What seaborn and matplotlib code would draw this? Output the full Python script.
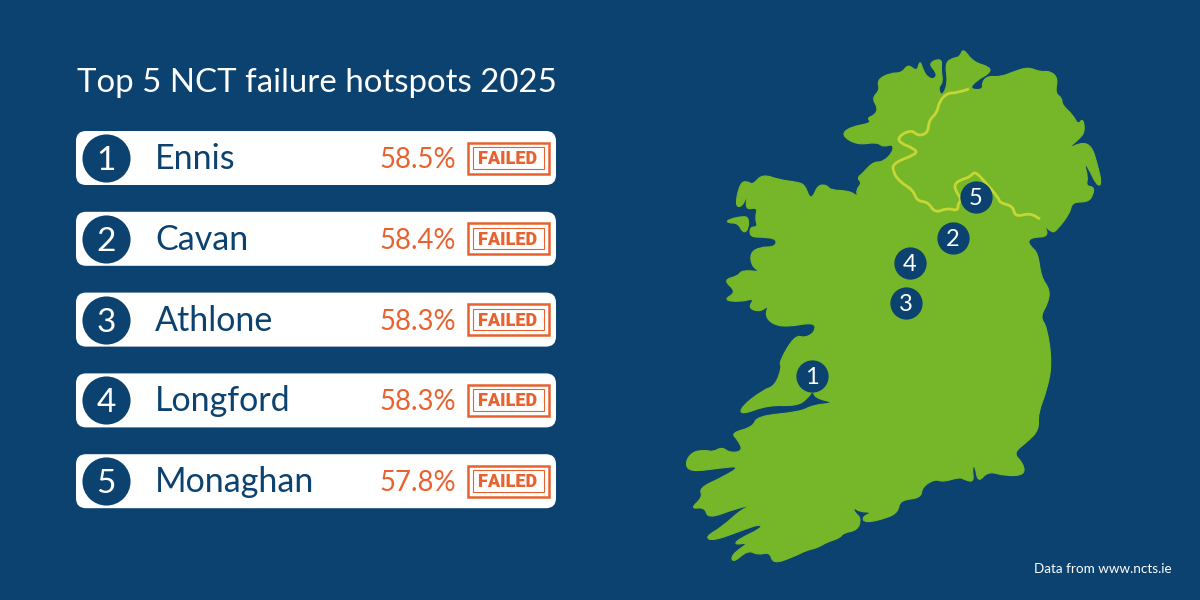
import matplotlib
matplotlib.use("Agg")
import matplotlib.pyplot as plt
from matplotlib.patches import FancyBboxPatch, PathPatch, Rectangle
from matplotlib.path import Path
import seaborn as sns

# Table values
towns = ["Ennis", "Cavan", "Athlone", "Longford", "Monaghan"]
rates = ["58.5%", "58.4%", "58.3%", "58.3%", "57.8%"]
ranks = [1, 2, 3, 4, 5]

# Map pins, same order as the ranks
pin_x = [812, 953, 906, 910, 976]
pin_y = [376, 238, 303, 263, 197]

# Ireland outline
coast_x = [963, 973, 990, 990, 977, 969, 983, 982, 988, 1000, 1013, 1028, 1040, 1050, 1058, 1055, 1062, 1062,
           1073, 1078, 1083, 1085, 1078, 1067, 1083, 1092, 1097, 1102, 1097, 1088, 1084, 1088, 1086, 1094, 1093,
           1088, 1072, 1070, 1057, 1052, 1042, 1048, 1045, 1035, 1028, 1030, 1038, 1041, 1050, 1048, 1040, 1047,
           1052, 1047, 1038, 1039, 1027, 1013, 1023, 1025, 1005, 988, 978, 975, 972, 974, 965, 960, 943, 935,
           922, 921, 900, 898, 887, 865, 862, 873, 860, 853, 855, 861, 858, 843, 840, 827, 817, 807, 793, 773,
           770, 758, 748, 733, 731, 750, 735, 737, 762, 760, 743, 713, 705, 722, 743, 758, 737, 708, 705, 690,
           703, 699, 723, 741, 720, 690, 685, 692, 705, 713, 722, 730, 743, 738, 731, 753, 757, 800, 813, 836,
           815, 813, 808, 797, 768, 741, 741, 763, 775, 782, 779, 795, 805, 815, 815, 787, 772, 765, 769, 760,
           748, 755, 740, 723, 737, 723, 738, 742, 762, 752, 750, 760, 775, 777, 763, 750, 750, 758, 755, 758,
           745, 748, 742, 735, 740, 747, 753, 762, 780, 797, 805, 809, 813, 818, 827, 830, 850, 858, 856, 862,
           857, 863, 873, 883, 893, 893, 883, 877, 857, 841, 850, 872, 867, 875, 878, 872, 880, 877, 890, 902,
           908, 917, 920, 923, 928, 935, 937, 928, 942, 941, 943, 938, 942, 948, 945, 953, 960]
coast_y = [48, 62, 67, 73, 80, 89, 90, 82, 76, 77, 72, 67, 72, 71, 78, 93, 98, 105,
           115, 125, 118, 132, 140, 149, 142, 147, 163, 184, 186, 167, 163, 177, 186, 187, 195,
           202, 202, 213, 230, 233, 223, 232, 237, 237, 240, 246, 253, 277, 290, 303, 317, 327,
           363, 390, 413, 430, 442, 453, 463, 475, 476, 471, 483, 465, 468, 482, 480, 477, 482, 479,
           487, 498, 500, 512, 518, 523, 517, 512, 512, 507, 513, 518, 530, 533, 538, 542, 548, 550, 557, 564,
           552, 555, 550, 563, 555, 542, 545, 540, 528, 524, 530, 541, 537, 527, 508, 504, 508, 519, 507, 509,
           497, 488, 477, 466, 468, 472, 463, 452, 450, 452, 447, 453, 451, 440, 433, 427, 416, 412, 405, 403,
           398, 390, 398, 406, 405, 415, 407, 390, 386, 367, 362, 335, 338, 332, 322, 327, 324, 315, 305, 312,
           308, 298, 302, 300, 292, 280, 276, 270, 272, 267, 253, 247, 247, 239, 237, 237, 227, 227, 218, 207,
           210, 193, 207, 206, 183, 181, 185, 174, 180, 182, 185, 197, 197, 185, 185, 190, 191, 197, 190, 183,
           178, 173, 162, 162, 152, 144, 147, 142, 145, 135, 127, 123, 118, 115, 108, 98, 90, 80, 73, 73,
           64, 72, 60, 70, 78, 79, 73, 63, 58, 70, 82, 88, 97, 83, 63, 58, 57]

# Achill island
island_x = [727, 743, 749, 748, 743, 738, 728]
island_y = [220, 216, 218, 230, 233, 223, 223]

# Border with the north
border_x = [969, 957, 947, 939, 937, 929, 928, 918, 912, 900, 898, 915, 917, 893, 893, 900, 913, 917, 928, 935,
            947, 958, 958, 962, 955, 955, 963, 970, 975, 985, 998, 1000, 1013, 1015, 1030, 1040]
border_y = [89, 93, 93, 102, 113, 120, 133, 136, 130, 135, 142, 149, 154, 163, 172, 182, 190, 201, 202, 213,
            208, 211, 203, 200, 190, 183, 179, 177, 171, 182, 197, 203, 206, 217, 213, 219]

navy = "#0C426F"
green = "#76B72A"
lime = "#C5D636"
orange = "#E8622F"


# rounded path, traced points act as control points
def soft_shape(xs, ys, closed=True):
    pts = list(zip(xs, ys))
    if closed:
        mids = [((a[0] + b[0]) / 2, (a[1] + b[1]) / 2) for a, b in zip(pts, pts[1:] + pts[:1])]
        verts = [mids[-1]]
        inner = pts
    else:
        mids = [((a[0] + b[0]) / 2, (a[1] + b[1]) / 2) for a, b in zip(pts, pts[1:])]
        mids = mids[1:] + [pts[-1]]
        verts = [pts[0]]
        inner = pts[1:]
    codes = [Path.MOVETO]
    for p, m in zip(inner, mids):
        verts += [p, m]
        codes += [Path.CURVE3, Path.CURVE3]
    return Path(verts, codes)


sns.set_theme(style="white")
plt.rcParams["font.family"] = ["Lato", "DejaVu Sans"]

fig, ax = plt.subplots(figsize=(12, 6), dpi=100)
fig.patch.set_facecolor(navy)
ax.set_position([0, 0, 1, 1])
ax.set_facecolor(navy)

# Map
ax.add_patch(PathPatch(soft_shape(coast_x, coast_y), fc=green, ec=green, lw=0.8, zorder=1))
ax.add_patch(PathPatch(soft_shape(island_x, island_y), fc=green, ec=green, lw=0.8, zorder=1))
ax.add_patch(PathPatch(soft_shape(border_x, border_y, closed=False), fc="none", ec=lime, lw=2, zorder=2))
sns.scatterplot(x=pin_x, y=pin_y, s=540, color=navy, linewidth=0, ax=ax, zorder=3)
for r, px, py in zip(ranks, pin_x, pin_y):
    ax.text(px, py + 8, str(r), color="white", fontsize=17, ha="center", va="baseline", zorder=4)

# Rows
row_top = [131 + 80.8 * (r - 1) for r in ranks]
row_mid = [t + 27 for t in row_top]
for t in row_top:
    ax.add_patch(FancyBboxPatch((76, t), 480, 54, boxstyle="round,pad=0,rounding_size=10",
                                fc="white", ec="none", zorder=1))
sns.scatterplot(x=[106] * 5, y=row_mid, s=1200, color=navy, linewidth=0, ax=ax, zorder=3)

for r, town, rate, y in zip(ranks, towns, rates, row_mid):
    ax.text(106, y + 12, str(r), color="white", fontsize=24, ha="center", va="baseline", zorder=4)
    ax.text(155, y + 11, town, color=navy, fontsize=24.5, ha="left", va="baseline", zorder=4)
    ax.text(456, y + 10, rate, color=orange, fontsize=19.8, ha="right", va="baseline", zorder=4)
    # stamp
    ax.add_patch(Rectangle((468, y - 15.5), 81, 31, fc="none", ec=orange, lw=1.8, zorder=4))
    ax.add_patch(Rectangle((473, y - 11), 71, 21.5, fc="none", ec=orange, lw=0.8, zorder=4))
    ax.text(508, y + 6, "FAILED", color=orange, fontsize=13, fontweight="black", ha="center", va="baseline",
            family=["Roboto", "DejaVu Sans"], zorder=4)

ax.text(77, 92, "Top 5 NCT failure hotspots 2025", color="white", fontsize=23.8, ha="left", va="baseline")
ax.text(1172, 573, "Data from www.ncts.ie", color="white", fontsize=9.7, ha="right", va="baseline")

ax.set_xlim(0, 1200)
ax.set_ylim(600, 0)
ax.set_axis_off()
fig.savefig("out.png", dpi=100, facecolor=navy)
